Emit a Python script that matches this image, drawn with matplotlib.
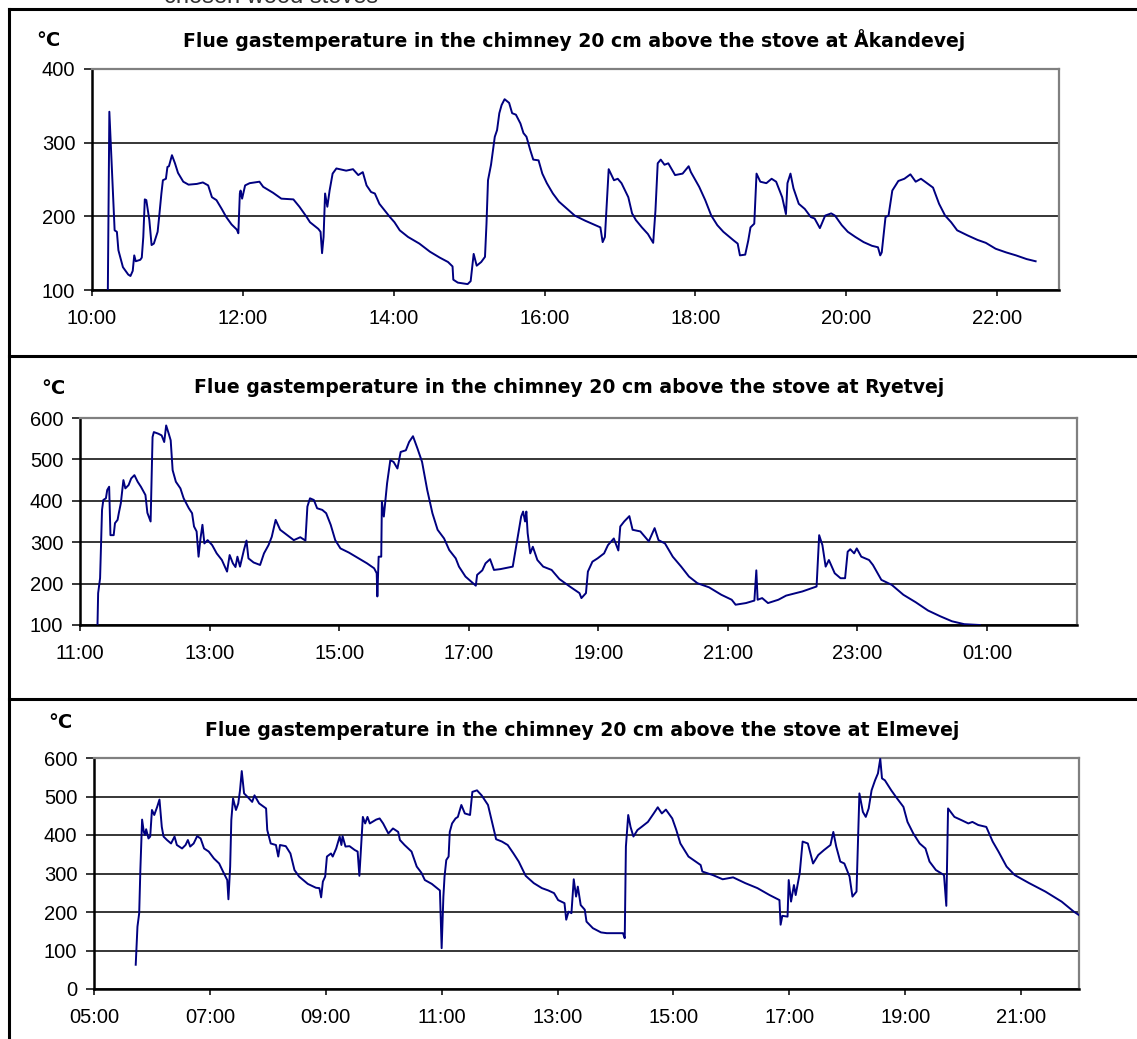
import matplotlib
matplotlib.use('Agg')
import matplotlib.pyplot as plt
from matplotlib.lines import Line2D
from matplotlib.ticker import FuncFormatter

# times are decimal hours (values past 24 are after midnight)
akande_time = [10.21, 10.23, 10.30, 10.33, 10.35, 10.41, 10.48, 10.51, 10.54, 10.56,
               10.58, 10.64, 10.66, 10.68, 10.70, 10.72, 10.76, 10.79, 10.82, 10.87,
               10.89, 10.92, 10.94, 10.98, 11.00, 11.02, 11.06, 11.10, 11.14, 11.21,
               11.28, 11.39, 11.47, 11.54, 11.59, 11.65, 11.72, 11.78, 11.85, 11.92,
               11.94, 11.96, 11.97, 11.99, 12.03, 12.09, 12.22, 12.27, 12.40, 12.51,
               12.67, 12.75, 12.84, 12.89, 13.00, 13.03, 13.05, 13.07, 13.09, 13.12,
               13.15, 13.19, 13.24, 13.37, 13.46, 13.53, 13.59, 13.64, 13.70, 13.75,
               13.81, 13.88, 13.95, 14.01, 14.08, 14.19, 14.34, 14.48, 14.61, 14.72,
               14.78, 14.79, 14.85, 14.98, 15.02, 15.06, 15.10, 15.16, 15.21, 15.23,
               15.25, 15.29, 15.34, 15.37, 15.40,
               15.43, 15.47, 15.53, 15.57, 15.62, 15.68, 15.72, 15.76, 15.81, 15.85,
               15.92, 15.97, 16.03, 16.11, 16.19, 16.30, 16.40, 16.54, 16.65, 16.74,
               16.77, 16.80, 16.82, 16.85, 16.92, 16.97, 17.02, 17.11, 17.16, 17.21,
               17.29, 17.37, 17.44, 17.47, 17.50, 17.54, 17.59, 17.64, 17.73, 17.83,
               17.91, 17.94, 18.05, 18.13, 18.21, 18.29, 18.37, 18.51, 18.56, 18.59,
               18.66, 18.70, 18.73, 18.78, 18.81, 18.86, 18.94, 19.01, 19.07, 19.15,
               19.20, 19.22, 19.26, 19.30, 19.37, 19.45, 19.53, 19.58, 19.65, 19.72,
               19.80, 19.85, 19.94, 20.02, 20.12, 20.23, 20.34, 20.42, 20.45, 20.47,
               20.52, 20.56, 20.61, 20.69, 20.77, 20.85, 20.92, 20.99, 21.07, 21.15,
               21.23, 21.31, 21.39, 21.47, 21.61, 21.74, 21.85, 21.98, 22.12, 22.25,
               22.39, 22.51]
akande_temp = [100, 342, 181, 179, 154, 131, 121, 119, 126, 147,
               139, 141, 144, 172, 223, 222, 195, 161, 163, 179,
               199, 231, 249, 251, 267, 268, 283, 272, 259, 247,
               243, 244, 246, 242, 226, 222, 210, 199, 189, 182,
               177, 231, 235, 224, 242, 245, 247, 240, 232, 224,
               223, 213, 200, 192, 183, 179, 150, 172, 231, 213,
               235, 258, 265, 262, 264, 256, 260, 242, 233, 231,
               217, 208, 199, 192, 181, 172, 163, 152, 144, 138,
               132, 114, 110, 108, 112, 149, 133, 138, 145, 190,
               249, 270, 308, 317, 340,
               351, 359, 354, 340, 338, 326, 313, 308, 290, 277,
               276, 258, 245, 231, 220, 210, 201, 194, 189, 185,
               165, 172, 208, 264, 249, 251, 245, 226, 204, 195,
               185, 176, 164, 208, 272, 277, 270, 272, 256, 258,
               268, 260, 240, 222, 201, 188, 179, 167, 163, 147,
               148, 167, 185, 190, 258, 247, 245, 251, 247, 226,
               203, 245, 258, 238, 217, 210, 199, 197, 184, 201,
               204, 201, 188, 179, 172, 165, 160, 158, 147, 151,
               199, 201, 235, 248, 251, 257, 247, 251, 245, 239,
               217, 201, 192, 181, 174, 168, 164, 156, 151, 147,
               142, 139]

ryet_time = [11.27, 11.28, 11.31, 11.34, 11.36, 11.40, 11.42, 11.45, 11.47, 11.52,
             11.54, 11.58, 11.60, 11.63, 11.67, 11.70, 11.75, 11.79, 11.84, 11.89,
             11.94, 12.01, 12.04, 12.09, 12.12, 12.14, 12.21, 12.26, 12.30, 12.33,
             12.37, 12.40, 12.43, 12.48, 12.55, 12.60, 12.68, 12.73, 12.76, 12.80,
             12.83, 12.86, 12.89, 12.92, 12.97, 13.04, 13.11, 13.19, 13.27, 13.31,
             13.36, 13.40, 13.43, 13.47, 13.53, 13.57, 13.60, 13.68, 13.78, 13.84,
             13.91, 13.96, 14.02, 14.09, 14.20, 14.30, 14.40, 14.48, 14.51, 14.55,
             14.61, 14.66, 14.74, 14.80, 14.87, 14.94, 15.02, 15.15, 15.30, 15.43,
             15.54, 15.58, 15.59, 15.61, 15.65, 15.66, 15.69, 15.74, 15.79, 15.84,
             15.90, 15.95, 16.03, 16.08, 16.14, 16.21, 16.28, 16.36, 16.44, 16.52,
             16.62, 16.70, 16.80, 16.85, 16.95, 17.11, 17.13, 17.21, 17.26, 17.33,
             17.39, 17.49,
             17.68, 17.74, 17.81, 17.84, 17.87, 17.89, 17.91, 17.95, 17.99, 18.06,
             18.15, 18.28, 18.40, 18.56, 18.71, 18.74, 18.81, 18.84, 18.91, 18.99,
             19.09, 19.15, 19.24, 19.31, 19.34, 19.40, 19.48, 19.53, 19.65, 19.78,
             19.87, 19.93, 20.03, 20.15, 20.28, 20.40, 20.53, 20.71, 20.90, 21.06,
             21.12, 21.28, 21.41, 21.44, 21.46, 21.53, 21.62, 21.78, 21.90, 22.15,
             22.37, 22.41, 22.46, 22.51, 22.56, 22.65, 22.74, 22.81, 22.85, 22.89,
             22.95, 22.99, 23.06, 23.18, 23.24, 23.37, 23.53, 23.71, 23.90, 24.09,
             24.28, 24.46, 24.65, 24.89]
ryet_temp = [100, 177, 213, 378, 402, 406, 426, 434, 317, 317,
             346, 354, 371, 394, 450, 430, 438, 454, 462, 446,
             434, 414, 371, 350, 554, 566, 562, 558, 542, 582,
             562, 546, 474, 446, 430, 406, 382, 370, 338, 326,
             265, 309, 342, 297, 305, 293, 273, 257, 229, 269,
             249, 240, 265, 241, 281, 304, 261, 251, 245, 273,
             293, 313, 354, 330, 317, 305, 312, 304, 386, 406,
             402, 382, 378, 370, 342, 305, 285, 275, 261, 249,
             237, 225, 169, 265, 265, 398, 362, 442, 498, 494,
             478, 518, 522, 542, 556, 526, 494, 426, 370, 330,
             309, 281, 261, 241, 217, 195, 221, 232, 249, 259,
             233, 235,
             241, 297, 362, 374, 350, 374, 322, 273, 289, 257,
             241, 233, 211, 193, 177, 165, 177, 229, 253, 261,
             273, 293, 309, 280, 338, 350, 363, 330, 326, 302,
             334, 305, 297, 265, 241, 217, 201, 191, 173, 161,
             149, 153, 159, 232, 161, 165, 153, 161, 171, 181,
             193, 317, 293, 241, 257, 225, 213, 213, 277, 283,
             273, 285, 265, 257, 245, 209, 197, 173, 155, 135,
             121, 109, 102, 100]

elme_time = [5.72, 5.75, 5.78, 5.80, 5.83, 5.86, 5.88, 5.90, 5.94, 5.97,
             6.00, 6.04, 6.09, 6.13, 6.17, 6.20, 6.26, 6.33, 6.39, 6.43,
             6.52, 6.58, 6.62, 6.66, 6.72, 6.78, 6.84, 6.90, 6.98, 7.07,
             7.16, 7.24, 7.30, 7.32, 7.35, 7.37, 7.40, 7.45, 7.49, 7.52,
             7.55, 7.59, 7.65, 7.73, 7.77, 7.85, 7.97, 7.99, 8.05, 8.14,
             8.18, 8.21, 8.31, 8.39, 8.46, 8.54, 8.69, 8.83, 8.89, 8.92,
             8.95, 8.99, 9.02, 9.09, 9.12, 9.18, 9.24, 9.27, 9.29, 9.34,
             9.41, 9.50, 9.55, 9.58, 9.61, 9.64, 9.68, 9.72, 9.76, 9.87,
             9.93, 9.99, 10.08, 10.16, 10.25, 10.28, 10.36, 10.48, 10.57, 10.65,
             10.71, 10.83, 10.97, 11.00, 11.03, 11.05, 11.08, 11.12, 11.14, 11.18,
             11.24, 11.28, 11.34, 11.40, 11.49, 11.53, 11.61, 11.69, 11.80, 11.87,
             11.94, 12.04,
             12.14, 12.24, 12.33, 12.45, 12.59, 12.73, 12.84, 12.94, 13.01, 13.12,
             13.15, 13.19, 13.24, 13.28, 13.32, 13.35, 13.40, 13.47, 13.50, 13.61,
             13.75, 13.85, 14.13, 14.16, 14.18, 14.22, 14.26, 14.31, 14.38, 14.45,
             14.56, 14.66, 14.73, 14.80, 14.87, 14.98, 15.05, 15.12, 15.26, 15.47,
             15.50, 15.68, 15.85, 16.03, 16.24, 16.45, 16.66, 16.83, 16.85, 16.88,
             16.97, 16.99, 17.03, 17.08, 17.11, 17.18, 17.23, 17.32, 17.41, 17.50,
             17.60, 17.71, 17.76, 17.81, 17.88, 17.95, 18.04, 18.09, 18.16, 18.21,
             18.27, 18.32, 18.37, 18.42, 18.48, 18.53, 18.57, 18.60, 18.65, 18.76,
             18.86, 18.97, 19.04, 19.14, 19.25, 19.35, 19.42, 19.53, 19.67, 19.71,
             19.74, 19.85, 19.98, 20.09, 20.16, 20.26, 20.40, 20.51, 20.61, 20.75,
             20.89, 21.14, 21.42, 21.70, 21.91, 22.04]
elme_temp = [63, 162, 197, 309, 440, 408, 400, 415, 391, 396,
             465, 452, 473, 492, 421, 396, 387, 378, 396, 374,
             365, 374, 387, 370, 378, 397, 391, 365, 357, 339,
             326, 301, 283, 233, 318, 439, 495, 465, 482, 516,
             566, 508, 499, 486, 503, 482, 469, 413, 378, 374,
             344, 374, 371, 352, 309, 292, 273, 263, 262, 238,
             279, 292, 344, 352, 344, 365, 396, 374, 397, 370,
             371, 361, 357, 294, 370, 447, 430, 447, 430, 440,
             443, 430, 404, 417, 408, 387, 374, 357, 318, 302,
             283, 273, 256, 106, 240, 292, 335, 344, 408, 430,
             443, 447, 478, 456, 452, 512, 516, 503, 478, 434,
             389, 383,
             374, 352, 331, 294, 275, 262, 256, 249, 231, 223,
             180, 201, 197, 285, 240, 266, 218, 206, 175, 158,
             147, 145, 145, 132, 370, 452, 421, 396, 413, 421,
             434, 456, 472, 456, 466, 443, 413, 378, 344, 322,
             305, 296, 285, 290, 275, 262, 244, 231, 167, 190,
             188, 283, 227, 270, 244, 301, 383, 378, 326, 348,
             361, 374, 408, 370, 331, 326, 292, 240, 253, 508,
             460, 447, 469, 516, 542, 560, 598, 547, 542, 516,
             495, 473, 434, 404, 378, 365, 331, 309, 296, 216,
             469, 447, 438, 430, 434, 426, 421, 383, 357, 318,
             296, 275, 253, 227, 201, 188]

titles = ['Flue gastemperature in the chimney 20 cm above the stove at Åkandevej',
          'Flue gastemperature in the chimney 20 cm above the stove at Ryetvej',
          'Flue gastemperature in the chimney 20 cm above the stove at Elmevej']

W, H = 1137, 1039
fig = plt.figure(figsize=(W / 100, H / 100), dpi=100)
fig.patch.set_facecolor('white')


def px_axes(left, top, right, bottom):
    return fig.add_axes([left / W, 1 - bottom / H, (right - left) / W, (bottom - top) / H])


def hhmm(h, pos):
    return f'{int(round(h)) % 24:02d}:00'


def style_panel(ax, times, temps, xlim, xticks, ylim, yticks):
    ax.plot(times, temps, color='#000080', lw=1.4, zorder=3)
    ax.set_xlim(*xlim)
    ax.set_ylim(*ylim)
    ax.set_xticks(xticks)
    ax.set_yticks(yticks)
    ax.xaxis.set_major_formatter(FuncFormatter(hhmm))
    ax.set_axisbelow(True)
    ax.yaxis.grid(True, color='black', lw=1.1)
    for s in ['left', 'bottom']:
        ax.spines[s].set_color('black')
        ax.spines[s].set_linewidth(1.8)
    for s in ['top', 'right']:
        ax.spines[s].set_color('#808080')
        ax.spines[s].set_linewidth(1.6)
    ax.tick_params(axis='y', direction='out', length=6, width=1.1, pad=6,
                   labelsize=14.5, labelfontfamily='Liberation Sans')
    ax.tick_params(axis='x', direction='out', length=4.5, width=1.1, pad=9,
                   labelsize=14.5, labelfontfamily='Liberation Sans')


ax1 = px_axes(92, 69, 1059, 290)
style_panel(ax1, akande_time, akande_temp, (10, 22.82), range(10, 23, 2), (100, 400), [100, 200, 300, 400])
ax2 = px_axes(80, 418, 1077, 625)
style_panel(ax2, ryet_time, ryet_temp, (11, 26.39), range(11, 26, 2), (100, 600), range(100, 601, 100))
ax3 = px_axes(94, 758, 1079, 989)
style_panel(ax3, elme_time, elme_temp, (5, 22.0), range(5, 22, 2), (0, 600), range(0, 601, 100))

# titles and unit labels
for (tx, ty), (ux, uy), t in zip([(574, 40), (569, 387), (582, 730)],
                                 [(48, 40), (53, 388), (60, 722)], titles):
    fig.text(tx / W, 1 - ty / H, t, ha='center', va='center', fontsize=13.6,
             fontweight='bold', family='DejaVu Sans')
    fig.text(ux / W, 1 - uy / H, '°C', ha='center', va='center', fontsize=14,
             fontweight='bold', family='DejaVu Sans')

# heading of the page, cut by the top edge as in the source
fig.text(271 / W, 1 - 3 / H, 'chosen wood stoves', ha='center', va='baseline',
         fontsize=17, family='Liberation Sans', color='#333333')

# frame lines
def fline(x0, y0, x1, y1):
    fig.add_artist(Line2D([x0 / W, x1 / W], [1 - y0 / H, 1 - y1 / H],
                          transform=fig.transFigure, color='black', lw=2.2))

fline(9, 9, 9, H)
fline(9, 9, W, 9)
fline(9, 356, W, 356)
fline(9, 699, W, 699)

fig.savefig('out.png', dpi=100)
